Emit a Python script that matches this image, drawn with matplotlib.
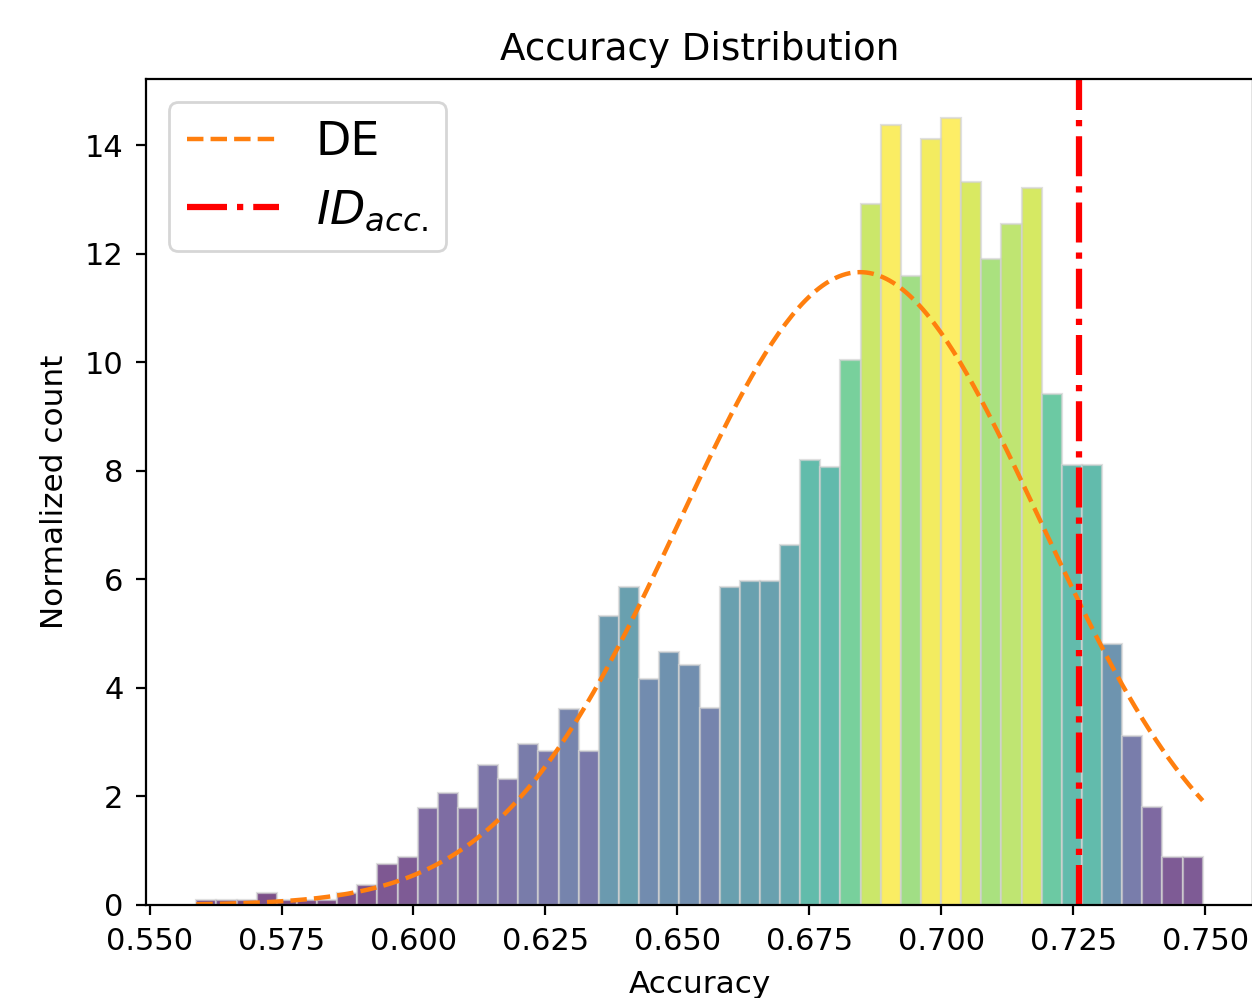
import numpy as np
import matplotlib
matplotlib.use('Agg')
import matplotlib.pyplot as plt

# histogram: 50 equal bins between min and max accuracy
acc_min = 0.55885
acc_max = 0.74953
heights = [0.09, 0.09, 0.09, 0.23, 0.09, 0.09, 0.09, 0.23, 0.36, 0.75,
           0.89, 1.79, 2.06, 1.79, 2.58, 2.32, 2.97, 2.84, 3.62, 2.84,
           5.33, 5.86, 4.16, 4.67, 4.42, 3.63, 5.86, 5.98, 5.98, 6.64,
           8.21, 8.08, 10.05, 12.92, 14.37, 11.60, 14.11, 14.50, 13.33, 11.90,
           12.56, 13.22, 9.41, 8.11, 8.11, 4.82, 3.12, 1.80, 0.89, 0.89]

# normal fit (DE) and in-distribution accuracy
de_mean = 0.6846
de_std = 0.0342
id_acc = 0.7261

edges = np.linspace(acc_min, acc_max, len(heights) + 1)
centers = (edges[:-1] + edges[1:]) / 2

plt.rcParams['xtick.labelsize'] = 11
plt.rcParams['ytick.labelsize'] = 11
plt.rcParams['xtick.major.pad'] = 4.6
plt.rcParams['ytick.major.pad'] = 4.6

fig = plt.figure(figsize=(6.26, 4.99), dpi=200)
ax = fig.add_axes([146/1252, 93/998, 1107/1252, 826/998])

n, bins, patches = ax.hist(centers, bins=edges, weights=heights)
norm = matplotlib.colors.Normalize(min(heights), max(heights))
for h, p in zip(n, patches):
    p.set_facecolor(plt.cm.viridis(norm(h)))
    p.set_edgecolor('lightgray')
    p.set_linewidth(0.8)
    p.set_alpha(0.7)

xs = np.linspace(acc_min, acc_max, 300)
pdf = np.exp(-0.5 * ((xs - de_mean) / de_std) ** 2) / (de_std * np.sqrt(2 * np.pi))
ax.plot(xs, pdf, '--', color='C1', lw=1.6, label='DE')
ax.axvline(id_acc, color='red', linestyle='-.', lw=2.25, label='$ID_{acc.}$')

ax.set_title('Accuracy Distribution', fontsize=13.4, pad=7)
ax.set_xlabel('Accuracy', fontsize=11.2, labelpad=5)
ax.set_ylabel('Normalized count', fontsize=11.2, labelpad=5.5)
ax.legend(loc='upper left', fontsize=16.5)

fig.savefig('out.png', dpi=200)
